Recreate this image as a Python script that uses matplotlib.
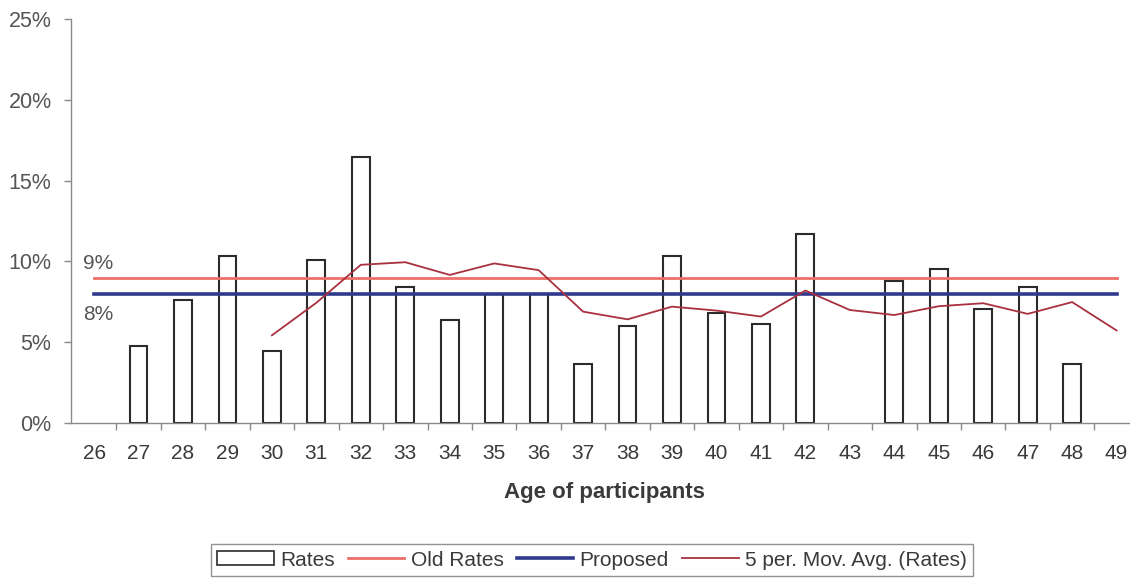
import matplotlib
matplotlib.use("Agg")
import matplotlib.pyplot as plt
from matplotlib.patches import Patch
from matplotlib.lines import Line2D
from matplotlib.ticker import FuncFormatter, MultipleLocator
import numpy as np
import pandas as pd

plt.rcParams['font.family'] = ['Liberation Sans', 'DejaVu Sans']

# Participant ages and observed rates (percent)
ages = list(range(26, 50))
rates = [0.0, 4.75, 7.6, 10.33, 4.44, 10.08, 16.49, 8.4, 6.4, 8.0, 8.0, 3.65,
         6.02, 10.33, 6.78, 6.15, 11.7, 0.0, 8.78, 9.5, 7.08, 8.4, 3.65, 0.0]
old_rate = 9.0
proposed_rate = 8.0
ma_window = 5

x = np.arange(len(ages))
rates_s = pd.Series(rates)
moving_avg = rates_s.rolling(ma_window).mean()

fig = plt.figure(figsize=(11.3, 5.84), dpi=100)
ax = fig.add_axes([0.0628, 0.2757, 0.945, 0.6918])

text_col = '#3a3a3a'
axis_col = '#8a8a8a'

# Bars: hollow rectangles (zero ages get no visible bar)
bar_vals = [v if v > 0 else np.nan for v in rates]
ax.bar(x, bar_vals, width=0.4, facecolor='white', edgecolor='#2b2b2b',
       linewidth=1.5, zorder=2)

ax.plot(x, [old_rate] * len(x), color='#ee6f6a', lw=2.0, zorder=3)
ax.plot(x, [proposed_rate] * len(x), color='#2f3a8e', lw=2.6, zorder=3)
ax.plot(x, moving_avg, color='#a8303f', lw=1.3, zorder=4)

ax.text(-0.26, 9.9, '9%', fontsize=15, color='#555555', va='center', ha='left')
ax.text(-0.24, 6.7, '8%', fontsize=15, color='#555555', va='center', ha='left')

ax.set_xlim(-0.52, len(ages) - 0.52)
ax.set_ylim(0, 25)
ax.yaxis.set_major_locator(MultipleLocator(5))
ax.yaxis.set_major_formatter(FuncFormatter(lambda v, p: f'{v:.0f}%'))

ax.set_xticks(x)
ax.set_xticklabels([str(a) for a in ages])
ax.set_xticks(x + 0.5, minor=True)
ax.tick_params(axis='x', which='major', length=0, pad=15, labelsize=15,
               labelcolor=text_col)
ax.tick_params(axis='x', which='minor', length=5, direction='out',
               color=axis_col, width=1)
ax.tick_params(axis='y', length=5, direction='out', color=axis_col, width=1,
               labelsize=15.5, labelcolor='#555555', pad=9)

for s in ['top', 'right']:
    ax.spines[s].set_visible(False)
for s in ['left', 'bottom']:
    ax.spines[s].set_color(axis_col)
    ax.spines[s].set_linewidth(1.0)

ax.set_xlabel('Age of participants', fontsize=16, fontweight='bold',
              color=text_col, labelpad=14)

handles = [
    Patch(facecolor='white', edgecolor='#2b2b2b', linewidth=1.2, label='Rates'),
    Line2D([], [], color='#ee6f6a', lw=2.0, label='Old Rates'),
    Line2D([], [], color='#2f3a8e', lw=2.6, label='Proposed'),
    Line2D([], [], color='#a8303f', lw=1.3, label='5 per. Mov. Avg. (Rates)'),
]
leg = fig.legend(handles=handles, loc='center', bbox_to_anchor=(0.524, 0.041),
                 ncol=4, fontsize=15, frameon=True, fancybox=False,
                 edgecolor='#777777', handlelength=2.7, handleheight=0.65,
                 handletextpad=0.3, columnspacing=0.65, borderpad=0.3,
                 borderaxespad=0, labelcolor=text_col)
leg.get_frame().set_linewidth(1.0)

fig.savefig('out.png', dpi=100)
